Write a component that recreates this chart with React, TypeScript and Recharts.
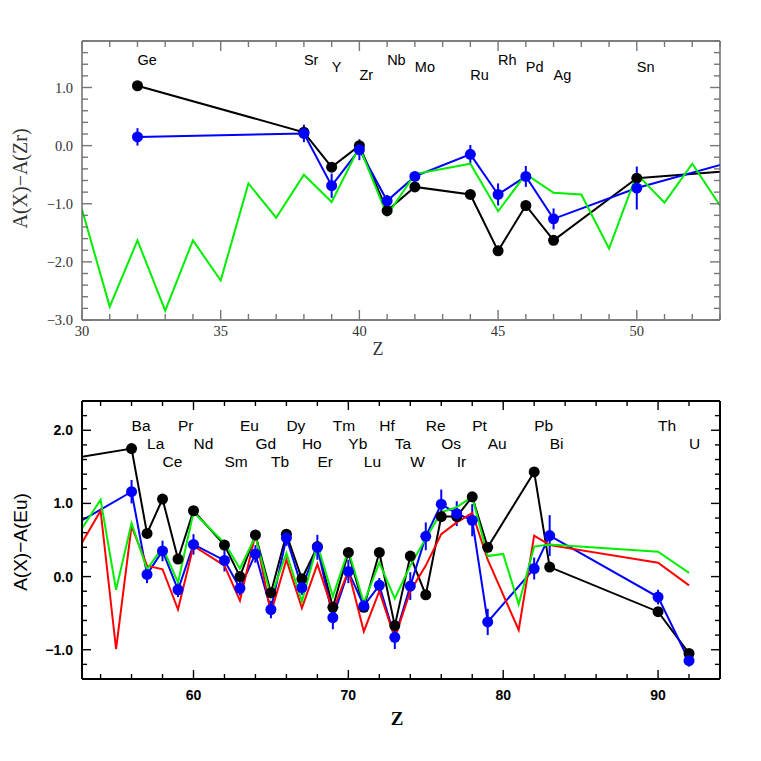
import { ComposedChart, Line, Scatter, XAxis, YAxis, ErrorBar, Label } from 'recharts';

// upper panel: normalised to Zr
const topBlack = [
  { z: 32, v: 1.03 }, { z: 38, v: 0.23 }, { z: 39, v: -0.37 }, { z: 40, v: 0.0 },
  { z: 41, v: -1.12 }, { z: 42, v: -0.71 }, { z: 44, v: -0.84 }, { z: 45, v: -1.81 },
  { z: 46, v: -1.03 }, { z: 47, v: -1.63 }, { z: 50, v: -0.56 }, { z: 54, v: -0.41 },
];
const topBlue = [
  { z: 32, v: 0.15, err: 0.15 }, { z: 38, v: 0.21, err: 0.15 }, { z: 39, v: -0.69, err: 0.21 },
  { z: 40, v: -0.07, err: 0.18 }, { z: 41, v: -0.95, err: 0.1 }, { z: 42, v: -0.53, err: 0.08 },
  { z: 44, v: -0.15, err: 0.16 }, { z: 45, v: -0.84, err: 0.19 }, { z: 46, v: -0.53, err: 0.18 },
  { z: 47, v: -1.26, err: 0.18 }, { z: 50, v: -0.73, err: 0.37 }, { z: 54, v: -0.2, err: 0 },
];
const topGreen = [
  { z: 30, v: -1.1 }, { z: 31, v: -2.77 }, { z: 32, v: -1.63 }, { z: 33, v: -2.84 },
  { z: 34, v: -1.63 }, { z: 35, v: -2.32 }, { z: 36, v: -0.65 }, { z: 37, v: -1.24 },
  { z: 38, v: -0.5 }, { z: 39, v: -0.97 }, { z: 40, v: -0.02 }, { z: 41, v: -1.2 },
  { z: 42, v: -0.49 }, { z: 44, v: -0.31 }, { z: 45, v: -1.13 }, { z: 46, v: -0.49 },
  { z: 47, v: -0.81 }, { z: 48, v: -0.84 }, { z: 49, v: -1.77 }, { z: 50, v: -0.49 },
  { z: 51, v: -0.98 }, { z: 52, v: -0.31 }, { z: 53, v: -1.03 },
];
const topLabels = [
  { name: 'Ge', z: 32, row: 0 }, { name: 'Sr', z: 38, row: 0 }, { name: 'Y', z: 39, row: 1 },
  { name: 'Zr', z: 40, row: 2 }, { name: 'Nb', z: 41, row: 0 }, { name: 'Mo', z: 42, row: 1 },
  { name: 'Ru', z: 44, row: 2 }, { name: 'Rh', z: 45, row: 0 }, { name: 'Pd', z: 46, row: 1 },
  { name: 'Ag', z: 47, row: 2 }, { name: 'Sn', z: 50, row: 1 },
];
const topXTicks = [30, 31, 32, 33, 34, 35, 36, 37, 38, 39, 40, 41, 42, 43, 44, 45, 46, 47, 48, 49, 50, 51, 52, 53];
const topYTicks = [-3, -2.8, -2.6, -2.4, -2.2, -2, -1.8, -1.6, -1.4, -1.2, -1, -0.8, -0.6, -0.4, -0.2, 0,
  0.2, 0.4, 0.6, 0.8, 1, 1.2, 1.4, 1.6, 1.8];

// lower panel: normalised to Eu
const botBlack = [
  { z: 52, v: 1.61 }, { z: 56, v: 1.75 }, { z: 57, v: 0.59 }, { z: 58, v: 1.06 }, { z: 59, v: 0.24 },
  { z: 60, v: 0.9 }, { z: 62, v: 0.43 }, { z: 63, v: 0.0 }, { z: 64, v: 0.57 }, { z: 65, v: -0.22 },
  { z: 66, v: 0.58 }, { z: 67, v: -0.03 }, { z: 68, v: 0.41 }, { z: 69, v: -0.42 }, { z: 70, v: 0.33 },
  { z: 71, v: -0.42 }, { z: 72, v: 0.33 }, { z: 73, v: -0.67 }, { z: 74, v: 0.28 }, { z: 75, v: -0.25 },
  { z: 76, v: 0.82 }, { z: 77, v: 0.82 }, { z: 78, v: 1.09 }, { z: 79, v: 0.4 }, { z: 82, v: 1.43 },
  { z: 83, v: 0.13 }, { z: 90, v: -0.48 }, { z: 92, v: -1.05 },
];
const botBlue = [
  { z: 52, v: 0.67, err: 0 }, { z: 56, v: 1.16, err: 0.16 }, { z: 57, v: 0.03, err: 0.12 },
  { z: 58, v: 0.35, err: 0.14 }, { z: 59, v: -0.18, err: 0.1 }, { z: 60, v: 0.44, err: 0.14 },
  { z: 62, v: 0.22, err: 0.15 }, { z: 63, v: -0.16, err: 0.1 }, { z: 64, v: 0.31, err: 0.12 },
  { z: 65, v: -0.45, err: 0.12 }, { z: 66, v: 0.53, err: 0.11 }, { z: 67, v: -0.15, err: 0.1 },
  { z: 68, v: 0.4, err: 0.17 }, { z: 69, v: -0.56, err: 0.16 }, { z: 70, v: 0.07, err: 0.16 },
  { z: 71, v: -0.4, err: 0.08 }, { z: 72, v: -0.12, err: 0.1 }, { z: 73, v: -0.83, err: 0.16 },
  { z: 74, v: -0.13, err: 0.19 }, { z: 75, v: 0.55, err: 0.19 }, { z: 76, v: 0.99, err: 0.2 },
  { z: 77, v: 0.86, err: 0.17 }, { z: 78, v: 0.77, err: 0.22 }, { z: 79, v: -0.62, err: 0.18 },
  { z: 82, v: 0.11, err: 0.15 }, { z: 83, v: 0.56, err: 0.28 }, { z: 90, v: -0.28, err: 0.1 },
  { z: 92, v: -1.15, err: 0.08 },
];
const botRed = [
  { z: 52, v: 0.17 }, { z: 54, v: 0.9 }, { z: 55, v: -0.99 }, { z: 56, v: 0.69 }, { z: 57, v: 0.15 },
  { z: 58, v: 0.1 }, { z: 59, v: -0.45 }, { z: 60, v: 0.42 }, { z: 62, v: 0.15 }, { z: 63, v: -0.33 },
  { z: 64, v: 0.58 }, { z: 65, v: -0.5 }, { z: 66, v: 0.23 }, { z: 67, v: -0.43 }, { z: 68, v: 0.17 },
  { z: 69, v: -0.47 }, { z: 70, v: 0.08 }, { z: 71, v: -0.75 }, { z: 72, v: -0.2 }, { z: 73, v: -0.84 },
  { z: 74, v: -0.2 }, { z: 75, v: 0.15 }, { z: 76, v: 0.58 }, { z: 77, v: 0.74 }, { z: 78, v: 0.87 },
  { z: 79, v: 0.23 }, { z: 81, v: -0.73 }, { z: 82, v: 0.56 }, { z: 83, v: 0.43 }, { z: 90, v: 0.19 },
  { z: 92, v: -0.12 },
];
const botGreen = [
  { z: 52, v: 0.4 }, { z: 54, v: 1.05 }, { z: 55, v: -0.18 }, { z: 56, v: 0.73 }, { z: 57, v: 0.1 },
  { z: 58, v: 0.4 }, { z: 59, v: -0.08 }, { z: 60, v: 0.88 }, { z: 62, v: 0.46 }, { z: 63, v: 0.11 },
  { z: 64, v: 0.55 }, { z: 65, v: -0.28 }, { z: 66, v: 0.32 }, { z: 67, v: -0.34 }, { z: 68, v: 0.44 },
  { z: 69, v: -0.27 }, { z: 70, v: 0.36 }, { z: 71, v: -0.36 }, { z: 72, v: 0.19 }, { z: 73, v: -0.3 },
  { z: 74, v: 0.15 }, { z: 75, v: 0.52 }, { z: 76, v: 0.88 }, { z: 77, v: 0.95 }, { z: 78, v: 1.09 },
  { z: 79, v: 0.28 }, { z: 80, v: 0.31 }, { z: 81, v: -0.38 }, { z: 82, v: 0.41 }, { z: 83, v: 0.44 },
  { z: 90, v: 0.34 }, { z: 92, v: 0.05 },
];
const botLabels = [
  { name: 'Ba', z: 56, row: 0 }, { name: 'La', z: 57, row: 1 }, { name: 'Ce', z: 58, row: 2 },
  { name: 'Pr', z: 59, row: 0 }, { name: 'Nd', z: 60, row: 1 }, { name: 'Sm', z: 62, row: 2 },
  { name: 'Eu', z: 63, row: 0 }, { name: 'Gd', z: 64, row: 1 }, { name: 'Tb', z: 65, row: 2 },
  { name: 'Dy', z: 66, row: 0 }, { name: 'Ho', z: 67, row: 1 }, { name: 'Er', z: 68, row: 2 },
  { name: 'Tm', z: 69, row: 0 }, { name: 'Yb', z: 70, row: 1 }, { name: 'Lu', z: 71, row: 2 },
  { name: 'Hf', z: 72, row: 0 }, { name: 'Ta', z: 73, row: 1 }, { name: 'W', z: 74, row: 2 },
  { name: 'Re', z: 75, row: 0 }, { name: 'Os', z: 76, row: 1 }, { name: 'Ir', z: 77, row: 2 },
  { name: 'Pt', z: 78, row: 0 }, { name: 'Au', z: 79, row: 1 }, { name: 'Pb', z: 82, row: 0 },
  { name: 'Bi', z: 83, row: 1 }, { name: 'Th', z: 90, row: 0 }, { name: 'U', z: 92, row: 1 },
];
const botXTicks = [54, 56, 58, 60, 62, 64, 66, 68, 70, 72, 74, 76, 78, 80, 82, 84, 86, 88, 90, 92];
const botYTicks = [-1.4, -1.2, -1, -0.8, -0.6, -0.4, -0.2, 0, 0.2, 0.4, 0.6, 0.8, 1, 1.2, 1.4, 1.6,
  1.8, 2, 2.2, 2.4];

const topRows = [1.48, 1.35, 1.22];
const botRows = [2.07, 1.82, 1.57];

const isInt = (v: number) => Math.abs(v - Math.round(v)) < 1e-6;
const fmt1 = (v: number) => (v < -1e-9 ? '\u2212' : '') + Math.abs(v).toFixed(1);

type Sty = { font: string; size: number; weight: string; color: string; tick: string; major: number; minor: number };

const topSty: Sty = { font: '"Liberation Serif", serif', size: 14.5, weight: 'normal', color: '#333', tick: '#777', major: 10, minor: 6 };
const botSty: Sty = { font: '"Liberation Sans", sans-serif', size: 14, weight: 'bold', color: '#000', tick: '#000', major: 9, minor: 5 };

function makeTick(side: 'bottom' | 'top' | 'left' | 'right', sty: Sty, isMajor: (v: number) => boolean, labels: boolean, fmt?: (v: number) => string, gap = 12) {
  return (p: any) => {
    const { x, y, payload } = p;
    const v = payload.value as number;
    const major = isMajor(v);
    const len = major ? sty.major : sty.minor;
    let x2 = x;
    let y2 = y;
    if (side === 'bottom') y2 = y - len;
    else if (side === 'top') y2 = y + len;
    else if (side === 'left') x2 = x + len;
    else x2 = x - len;
    let text = null;
    if (labels && major) {
      const s = fmt ? fmt(v) : String(v);
      if (side === 'bottom')
        text = <text x={x} y={y + gap} textAnchor="middle" dominantBaseline="central" fontFamily={sty.font} fontSize={sty.size} fontWeight={sty.weight} fill={sty.color}>{s}</text>;
      else if (side === 'left')
        text = <text x={x - gap} y={y} textAnchor="end" dominantBaseline="central" fontFamily={sty.font} fontSize={sty.size} fontWeight={sty.weight} fill={sty.color}>{s}</text>;
    }
    return (
      <g>
        <path d={`M${x},${y}L${x2},${y2}`} stroke={sty.tick} strokeWidth={1.4} fill="none" />
        {text}
      </g>
    );
  };
}

const labelShape = (size: number) => (p: any) => (
  <text x={p.cx} y={p.cy} textAnchor="start" dominantBaseline="central" fontFamily='"Liberation Sans", Arial, sans-serif' fontSize={size} fill="#000">{p.payload.name}</text>
);

export default function App() {
  const topLab = topLabels.map((l) => ({ z: l.z, v: topRows[l.row], name: l.name }));
  const botLab = botLabels.map((l) => ({ z: l.z, v: botRows[l.row], name: l.name }));
  const top5 = (v: number) => v % 5 === 0;
  const bot10 = (v: number) => v % 10 === 0;

  return (
    <div style={{ position: 'absolute', left: 0, top: 0, width: 761, height: 761, background: '#fff' }}>
      <div style={{ position: 'absolute', left: 0, top: 0 }}>
        <ComposedChart width={761} height={380} margin={{ top: 40, right: 40, left: 32, bottom: 20 }}>
          <XAxis xAxisId="b" type="number" dataKey="z" domain={[30, 53]} allowDataOverflow ticks={topXTicks} interval={0}
            height={40} tickSize={0} tickMargin={0} axisLine={{ stroke: '#555', strokeWidth: 1.3 }} tickLine={false}
            tick={makeTick('bottom', topSty, top5, true, undefined, 11)}>
            <Label content={(p: any) => {
              const vb = p.viewBox;
              return <text x={vb.x + vb.width / 2 - 23} y={vb.y + 29} textAnchor="middle" dominantBaseline="central" fontFamily='"Liberation Serif", serif' fontSize={18} fill="#333">Z</text>;
            }} />
          </XAxis>
          <XAxis xAxisId="t" orientation="top" type="number" dataKey="z" domain={[30, 53]} allowDataOverflow ticks={topXTicks} interval={0}
            height={1} tickSize={0} tickMargin={0} axisLine={{ stroke: '#555', strokeWidth: 1.3 }} tickLine={false}
            tick={makeTick('top', topSty, top5, false)} />
          <YAxis yAxisId="l" type="number" domain={[-3, 1.8]} allowDataOverflow ticks={topYTicks} interval={0}
            width={50} tickSize={0} tickMargin={0} axisLine={{ stroke: '#555', strokeWidth: 1.3 }} tickLine={false}
            tick={makeTick('left', topSty, isInt, true, fmt1, 9)}>
            <Label content={(p: any) => {
              const vb = p.viewBox;
              const cy = vb.y + vb.height / 2 - 2;
              return <text x={20} y={cy} transform={`rotate(-90 20 ${cy})`} textAnchor="middle" dominantBaseline="central" fontFamily='"Liberation Serif", serif' fontSize={20} fill="#333">A(X){'\u2212'}A(Zr)</text>;
            }} />
          </YAxis>
          <YAxis yAxisId="r" orientation="right" type="number" domain={[-3, 1.8]} allowDataOverflow ticks={topYTicks} interval={0}
            width={1} tickSize={0} tickMargin={0} axisLine={{ stroke: '#555', strokeWidth: 1.3 }} tickLine={false}
            tick={makeTick('right', topSty, isInt, false)} />
          <Line xAxisId="b" yAxisId="l" data={topBlack} dataKey="v" stroke="#000" strokeWidth={2} isAnimationActive={false}
            dot={{ r: 5.5, fill: '#000', stroke: '#000', strokeWidth: 0 }} activeDot={false} />
          <Line xAxisId="b" yAxisId="l" data={topBlue} dataKey="v" stroke="#0000ff" strokeWidth={2} isAnimationActive={false}
            dot={{ r: 5.5, fill: '#0000ff', stroke: '#0000ff', strokeWidth: 0 }} activeDot={false}>
            <ErrorBar dataKey="err" direction="y" width={0} stroke="#0000ff" strokeWidth={2} />
          </Line>
          <Line xAxisId="b" yAxisId="l" data={topGreen} dataKey="v" stroke="#00ee00" strokeWidth={2} isAnimationActive={false}
            dot={false} activeDot={false} />
          <Scatter xAxisId="t" yAxisId="r" data={topLab} dataKey="v" isAnimationActive={false} shape={labelShape(14.5)} />
        </ComposedChart>
      </div>
      <div style={{ position: 'absolute', left: 0, top: 360 }}>
        <ComposedChart width={761} height={400} margin={{ top: 40, right: 40, left: 32, bottom: 31 }}>
          <XAxis xAxisId="b" type="number" dataKey="z" domain={[52.8, 94]} allowDataOverflow ticks={botXTicks} interval={0}
            height={50} tickSize={0} tickMargin={0} axisLine={{ stroke: '#000', strokeWidth: 2 }} tickLine={false}
            tick={makeTick('bottom', botSty, bot10, true, undefined, 16)}>
            <Label content={(p: any) => {
              const vb = p.viewBox;
              return <text x={vb.x + vb.width / 2 - 4} y={vb.y + 39} textAnchor="middle" dominantBaseline="central" fontFamily='"Liberation Serif", serif' fontWeight="bold" fontSize={19} fill="#000">Z</text>;
            }} />
          </XAxis>
          <XAxis xAxisId="t" orientation="top" type="number" dataKey="z" domain={[52.8, 94]} allowDataOverflow ticks={botXTicks} interval={0}
            height={1} tickSize={0} tickMargin={0} axisLine={{ stroke: '#000', strokeWidth: 2 }} tickLine={false}
            tick={makeTick('top', botSty, bot10, false)} />
          <YAxis yAxisId="l" type="number" domain={[-1.4, 2.4]} allowDataOverflow ticks={botYTicks} interval={0}
            width={50} tickSize={0} tickMargin={0} axisLine={{ stroke: '#000', strokeWidth: 2 }} tickLine={false}
            tick={makeTick('left', botSty, isInt, true, fmt1, 9)}>
            <Label content={(p: any) => {
              const vb = p.viewBox;
              const cy = vb.y + vb.height / 2 + 2;
              return <text x={20} y={cy} transform={`rotate(-90 20 ${cy})`} textAnchor="middle" dominantBaseline="central" fontFamily='"Liberation Sans", sans-serif' fontSize={19} fill="#000">A(X){'\u2212'}A(Eu)</text>;
            }} />
          </YAxis>
          <YAxis yAxisId="r" orientation="right" type="number" domain={[-1.4, 2.4]} allowDataOverflow ticks={botYTicks} interval={0}
            width={1} tickSize={0} tickMargin={0} axisLine={{ stroke: '#000', strokeWidth: 2 }} tickLine={false}
            tick={makeTick('right', botSty, isInt, false)} />
          <Line xAxisId="b" yAxisId="l" data={botBlack} dataKey="v" stroke="#000" strokeWidth={2} isAnimationActive={false}
            dot={{ r: 5.5, fill: '#000', stroke: '#000', strokeWidth: 0 }} activeDot={false} />
          <Line xAxisId="b" yAxisId="l" data={botBlue} dataKey="v" stroke="#0000ff" strokeWidth={2} isAnimationActive={false}
            dot={{ r: 5.5, fill: '#0000ff', stroke: '#0000ff', strokeWidth: 0 }} activeDot={false}>
            <ErrorBar dataKey="err" direction="y" width={0} stroke="#0000ff" strokeWidth={2} />
          </Line>
          <Line xAxisId="b" yAxisId="l" data={botRed} dataKey="v" stroke="#ff0000" strokeWidth={2} isAnimationActive={false}
            dot={false} activeDot={false} />
          <Line xAxisId="b" yAxisId="l" data={botGreen} dataKey="v" stroke="#00ee00" strokeWidth={2} isAnimationActive={false}
            dot={false} activeDot={false} />
          <Scatter xAxisId="t" yAxisId="r" data={botLab} dataKey="v" isAnimationActive={false} shape={labelShape(15.5)} />
        </ComposedChart>
      </div>
    </div>
  );
}
